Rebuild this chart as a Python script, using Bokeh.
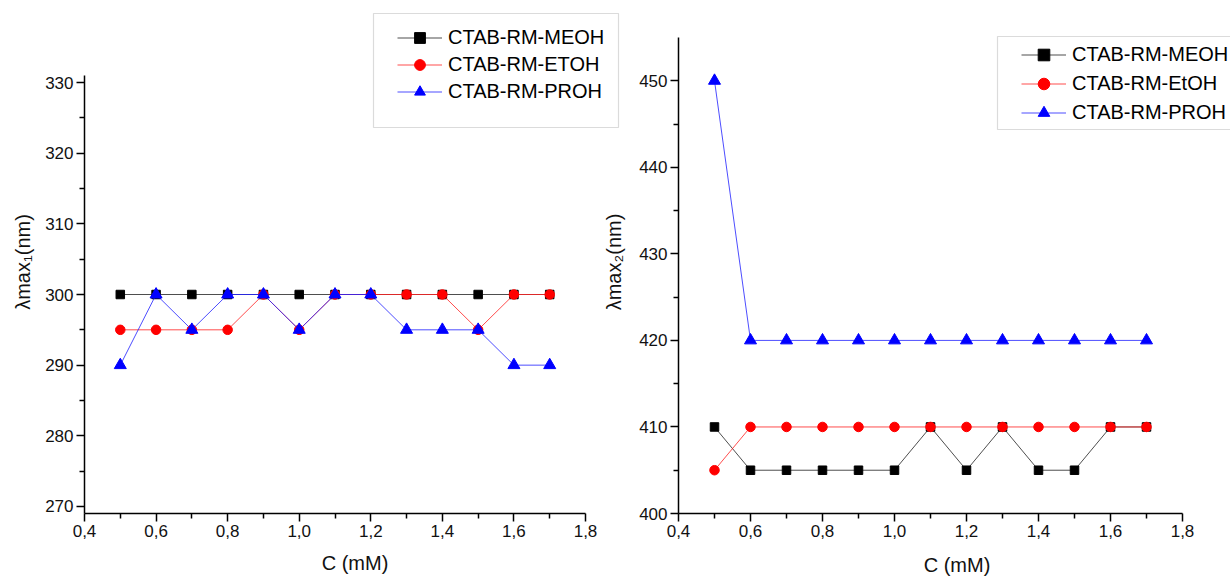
from bokeh.plotting import figure
from bokeh.models import (FixedTicker, CustomJSTickFormatter, Legend, LegendItem,
                          Range1d, BoxAnnotation)
from bokeh.layouts import row
from bokeh.embed import file_html
from bokeh.resources import INLINE

# ---------------- data ----------------
conc = [0.5, 0.6, 0.7, 0.8, 0.9, 1.0, 1.1, 1.2, 1.3, 1.4, 1.5, 1.6, 1.7]

lmax1_meoh = [300, 300, 300, 300, 300, 300, 300, 300, 300, 300, 300, 300, 300]
lmax1_etoh = [295, 295, 295, 295, 300, 295, 300, 300, 300, 300, 295, 300, 300]
lmax1_proh = [290, 300, 295, 300, 300, 295, 300, 300, 295, 295, 295, 290, 290]

lmax2_meoh = [410, 405, 405, 405, 405, 405, 410, 405, 410, 405, 405, 410, 410]
lmax2_etoh = [405, 410, 410, 410, 410, 410, 410, 410, 410, 410, 410, 410, 410]
lmax2_proh = [450, 420, 420, 420, 420, 420, 420, 420, 420, 420, 420, 420, 420]

x_major = [0.4, 0.6, 0.8, 1.0, 1.2, 1.4, 1.6, 1.8]
x_minor = [0.5, 0.7, 0.9, 1.1, 1.3, 1.5, 1.7]
y1_major = [270, 280, 290, 300, 310, 320, 330]
y1_minor = [275, 285, 295, 305, 315, 325]
y2_major = [400, 410, 420, 430, 440, 450]
y2_minor = [405, 415, 425, 435, 445]

labels1 = ["CTAB-RM-MEOH", "CTAB-RM-ETOH", "CTAB-RM-PROH"]
labels2 = ["CTAB-RM-MEOH", "CTAB-RM-EtOH", "CTAB-RM-PROH"]

FONT = "Liberation Sans"

# ---------------- layout geometry (pixels) ----------------
FRAME_TOP = 10
FRAME_BOTTOM = 513
FH = FRAME_BOTTOM - FRAME_TOP


def make_fig(left_px, frame_w, axis_right_px, axis_top_px,
             xlo, xhi, ylo, yhi, margin):
    sx = (axis_right_px - left_px) / (xhi - xlo)
    sy = (FRAME_BOTTOM - axis_top_px) / (yhi - ylo)
    x_end = xlo + frame_w / sx
    y_end = ylo + FH / sy
    p = figure(width=630, height=580,
               frame_width=frame_w, frame_height=FH,
               min_border_left=left_px, min_border_right=630 - left_px - frame_w,
               min_border_top=FRAME_TOP, min_border_bottom=580 - FRAME_BOTTOM,
               x_range=Range1d(xlo, x_end), y_range=Range1d(ylo, y_end),
               output_backend="svg", toolbar_location=None, margin=margin)
    p.xaxis.bounds = (xlo, xhi)
    p.yaxis.bounds = (ylo, yhi)
    return p


def style(p, ymaj, ymin, ylabel, ystandoff, xstandoff):
    p.xaxis.ticker = FixedTicker(ticks=x_major, minor_ticks=x_minor)
    p.yaxis.ticker = FixedTicker(ticks=ymaj, minor_ticks=ymin)
    p.xaxis.formatter = CustomJSTickFormatter(code="return tick.toFixed(1).replace('.', ',');")
    p.xgrid.visible = False
    p.ygrid.visible = False
    p.outline_line_color = None
    for ax in (p.xaxis[0], p.yaxis[0]):
        ax.axis_line_color = "black"
        ax.axis_line_width = 1.5
        ax.major_tick_line_color = "black"
        ax.major_tick_line_width = 1.5
        ax.minor_tick_line_color = "black"
        ax.minor_tick_line_width = 1.5
        ax.major_tick_in = 0
        ax.major_tick_out = 8
        ax.minor_tick_in = 0
        ax.minor_tick_out = 5
        ax.major_label_text_font = FONT
        ax.major_label_text_font_size = "17px"
        ax.major_label_text_color = "#111111"
        ax.axis_label_text_font = FONT
        ax.axis_label_text_font_size = "20px"
        ax.axis_label_text_font_style = "normal"
        ax.axis_label_text_color = "#111111"
        ax.major_label_standoff = 3
    p.xaxis.axis_label = "C (mM)"
    p.yaxis.axis_label = ylabel
    p.yaxis.axis_label_standoff = ystandoff
    p.xaxis.axis_label_standoff = xstandoff


def add_series(p, ys, labels, loc, padding, row_h, box):
    specs = [
        ("square", "black", "#222222", 8.5),
        ("circle", "red", "#ff2020", 9.5),
        ("triangle", "blue", "#2020ff", 12),
    ]
    items = []
    for (marker, col, lcol, size), y, lab in zip(specs, ys, labels):
        rl = p.line(conc, y, line_color=lcol, line_width=1, line_alpha=0.8)
        rs = p.scatter(conc, y, marker=marker, size=size, fill_color=col,
                       line_color=col, line_width=1)
        items.append(LegendItem(label=lab, renderers=[rl, rs]))
    # legend frame (screen units, relative to the plot frame, y upwards)
    bl, br, bt, bb = box
    p.add_layout(BoxAnnotation(left=bl, right=br, top=bt, bottom=bb,
                               left_units="screen", right_units="screen",
                               top_units="screen", bottom_units="screen",
                               fill_color="white", fill_alpha=1,
                               line_color="#888888", line_width=1.2,
                               editable=False))
    leg = Legend(items=items, location=loc, padding=padding, spacing=0,
                 label_height=row_h, glyph_height=row_h, glyph_width=45,
                 label_standoff=6, label_text_font=FONT,
                 label_text_font_size="20px", label_text_color="black",
                 border_line_alpha=0, background_fill_alpha=0,
                 margin=0)
    p.add_layout(leg)


# left panel: axes from x=84..585, y axis top at 75
p1 = make_fig(84, 541, 585, 75, 0.4, 1.8, 269, 331, (0, 0, 0, 0))
style(p1, y1_major, y1_minor, "λmax₁(nm)", 8, 12)
add_series(p1, [lmax1_meoh, lmax1_etoh, lmax1_proh], labels1, (305, 400), 8, 27,
           (289, 534, 500, 386))

# right panel: canvas starts at x=600, axes from x=673..1177, y axis top at 37
p2 = make_fig(73, 557, 577, 37, 0.4, 1.8, 400, 455, (0, 0, 0, -30))
p2.background_fill_color = None
p2.border_fill_color = None
style(p2, y2_major, y2_minor, "λmax₂(nm)", 11, 14)
add_series(p2, [lmax2_meoh, lmax2_etoh, lmax2_proh], labels2, (339, 382), 4, 29,
           (319, 600, 477, 384))

layout = row(p1, p2)
open("out.html", "w").write(file_html(layout, INLINE))
